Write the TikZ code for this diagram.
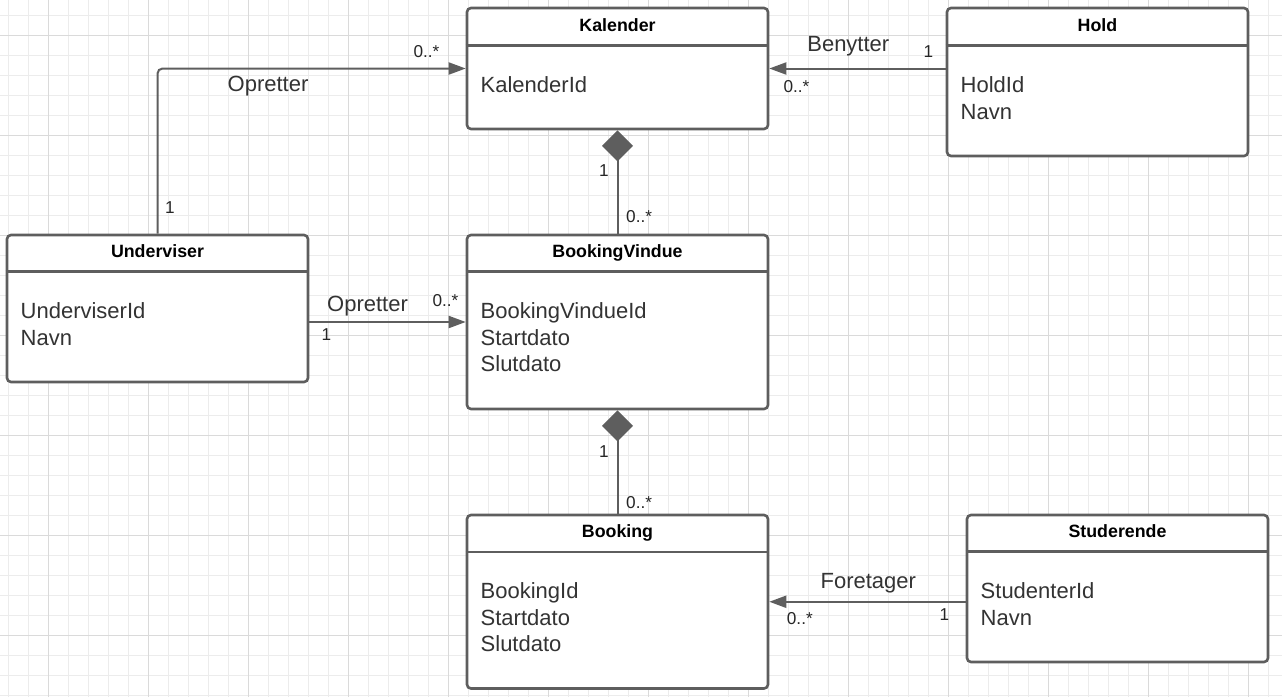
\documentclass[tikz,border=0pt]{standalone}
\usepackage{fontspec}
\setmainfont{Liberation Sans}
\usetikzlibrary{arrows.meta}
\definecolor{lc}{HTML}{5E5E5E}
\definecolor{txt}{HTML}{333333}
\definecolor{gminor}{HTML}{ECECEC}
\definecolor{gmajor}{HTML}{DADADA}
\begin{document}
\begin{tikzpicture}[x=1pt,y=-1pt,
  cls/.style={draw=lc, line width=2.6pt, rounded corners=4pt, fill=white, inner sep=0pt, minimum width=301pt},
  hdr/.style={draw=lc, line width=2.6pt},
  ttl/.style={font=\bfseries\fontsize{17.8}{21}\selectfont, anchor=base, inner sep=0pt},
  attr/.style={font=\fontsize{22}{26}\selectfont, text=txt, anchor=base west, inner sep=0pt},
  lbl/.style={font=\fontsize{22}{26}\selectfont, text=txt, anchor=base, inner sep=0pt},
  mult/.style={font=\fontsize{17.2}{20}\selectfont, text=black!85, anchor=base west, inner sep=0pt},
  assoc/.style={draw=lc, line width=2pt, -{Triangle[length=17pt,width=12pt]}},
  comp/.style={draw=lc, line width=2pt, {Diamond[length=31pt,width=31pt]}-},
]
\useasboundingbox (0,0) rectangle (1282,697);
\fill[white] (0,0) rectangle (1282,697);
% grid
\foreach \x in {8,28,...,1282} \draw[gminor, line width=1pt] (\x,0) -- (\x,697);
\foreach \y in {15,35,...,697} \draw[gminor, line width=1pt] (0,\y) -- (1282,\y);
\foreach \x in {48,148,...,1282} \draw[gmajor, line width=1pt] (\x,0) -- (\x,697);
\foreach \y in {35,135,...,697} \draw[gmajor, line width=1pt] (0,\y) -- (1282,\y);

% classes
\node[cls, minimum height=121pt] (kal) at (617.5,68.5) {};
\draw[hdr] ([yshift=-38.5pt]kal.north west) -- ([yshift=-38.5pt]kal.north east);
\node[ttl] (kalT) at (617.5,31.7) {Kalender};
\node[attr] (kalA) at (480.5,92.7) {KalenderId};

\node[cls, minimum height=148pt] (hold) at (1097.5,82) {};
\draw[hdr] ([yshift=-38.5pt]hold.north west) -- ([yshift=-38.5pt]hold.north east);
\node[ttl] (holdT) at (1097.5,31.7) {Hold};
\node[attr] (holdA) at (960.5,92.3) {HoldId};
\node[attr] (holdB) at (960.5,119.3) {Navn};

\node[cls, minimum height=147pt] (und) at (157.5,308.5) {};
\draw[hdr] ([yshift=-38pt]und.north west) -- ([yshift=-38pt]und.north east);
\node[ttl] (undT) at (157.5,257.3) {Underviser};
\node[attr] (undA) at (20.5,318.3) {UnderviserId};
\node[attr] (undB) at (20.5,345) {Navn};

\node[cls, minimum height=174pt] (bv) at (617.5,322) {};
\draw[hdr] ([yshift=-38pt]bv.north west) -- ([yshift=-38pt]bv.north east);
\node[ttl] (bvT) at (617.5,257.3) {BookingVindue};
\node[attr] (bvA) at (480.5,318.3) {BookingVindueId};
\node[attr] (bvB) at (480.5,345) {Startdato};
\node[attr] (bvC) at (480.5,371.5) {Slutdato};

\node[cls, minimum height=173.5pt] (bk) at (617.5,601.75) {};
\draw[hdr] ([yshift=-38.3pt]bk.north west) -- ([yshift=-38.3pt]bk.north east);
\node[ttl] (bkT) at (617.5,537) {Booking};
\node[attr] (bkA) at (480.5,598.3) {BookingId};
\node[attr] (bkB) at (480.5,625) {Startdato};
\node[attr] (bkC) at (480.5,651.5) {Slutdato};

\node[cls, minimum height=147pt] (stud) at (1117.5,588.5) {};
\draw[hdr] ([yshift=-37.5pt]stud.north west) -- ([yshift=-37.5pt]stud.north east);
\node[ttl] (studT) at (1117.5,537) {Studerende};
\node[attr] (studA) at (980.5,598.3) {StudenterId};
\node[attr] (studB) at (980.5,625) {Navn};

% connectors
\draw[assoc, rounded corners=5pt] (und.north) |- (kal.west);
\node[lbl] (l1) at (268,91.7) {Opretter};
\node[mult] (m1a) at (413.3,57.3) {0..*};
\node[mult] (m1b) at (165,213.3) {1};

\draw[assoc] (kal.east -| hold.west) -- (kal.east);
\node[lbl] (l2) at (848.3,51.7) {Benytter};
\node[mult] (m2a) at (923.5,57.3) {1};
\node[mult] (m2b) at (783.3,92.7) {0..*};

\draw[comp] (kal.south) -- (bv.north);
\node[mult] (m3a) at (599,176.7) {1};
\node[mult] (m3b) at (626,222.7) {0..*};

\draw[assoc] (und.east |- bv.west) -- (bv.west);
\node[lbl] (l4) at (367.5,311.7) {Opretter};
\node[mult] (m4a) at (432.3,306) {0..*};
\node[mult] (m4b) at (321.5,340) {1};

\draw[comp] (bv.south) -- (bk.north);
\node[mult] (m5a) at (599,457.3) {1};
\node[mult] (m5b) at (626,508.3) {0..*};

\draw[assoc] (bk.east -| stud.west) -- (bk.east);
\node[lbl] (l6) at (868.3,588.3) {Foretager};
\node[mult] (m6a) at (939.5,620) {1};
\node[mult] (m6b) at (786.7,624) {0..*};
\end{tikzpicture}
\end{document}
